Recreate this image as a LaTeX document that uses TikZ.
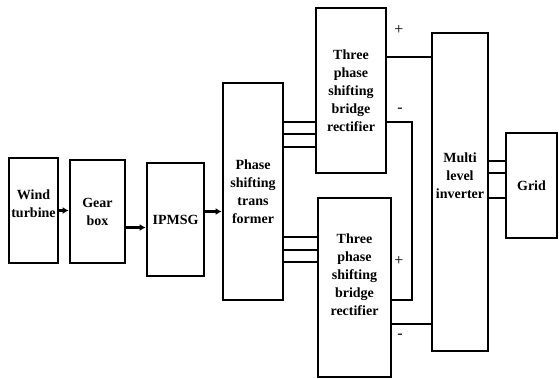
\documentclass[tikz,border=0pt]{standalone}
\usepackage{fontspec}
\setmainfont{Liberation Serif}
\usetikzlibrary{arrows.meta,calc}
\tikzset{
  blk/.style={draw,line width=2.8pt,inner sep=0pt,align=center,font=\fontsize{14}{18}\selectfont\bfseries},
  txt/.style={align=center,font=\fontsize{14}{18}\selectfont\bfseries},
  wire/.style={line width=2.8pt},
  arr/.style={line width=2.8pt,-{Latex[length=6pt,width=7pt]}},
  sgn/.style={font=\fontsize{16}{16}\selectfont,inner sep=0pt}
}

\begin{document}
\begin{tikzpicture}[x=1pt,y=-1pt]
  \useasboundingbox (0,0) rectangle (559,379);
  \node[blk,minimum width=49,minimum height=105,label={[txt,yshift=7pt]center:Wind\\turbine}] (wt) at (33.5,210.5){};
  \node[blk,minimum width=55,minimum height=103] (gb) at (97.5,211.5){Gear\\box};
  \node[blk,minimum width=57,minimum height=113] (ipm) at (175.5,219.5){IPMSG};
  \node[blk,minimum width=60,minimum height=217] (pst) at (253,191.5){Phase\\shifting\\trans\\former};
  \node[blk,minimum width=70,minimum height=165] (r1) at (351,90.5){Three\\phase\\shifting\\bridge\\rectifier};
  \node[blk,minimum width=73,minimum height=179,label={[txt,yshift=13pt]center:Three\\phase\\shifting\\bridge\\rectifier}] (r2) at (354.5,287.5){};
  \node[blk,minimum width=56,minimum height=318,label={[txt,yshift=16pt]center:Multi\\level\\inverter}] (inv) at (460,192){};
  \node[blk,minimum width=51,minimum height=105] (grid) at (531.5,185.5){Grid};
  \draw[arr] (wt.east) -- (wt.east -| gb.west);
  \draw[arr] ([yshift=-16pt]gb.east) -- ([yshift=-16pt]gb.east -| ipm.west);
  \draw[arr] ([yshift=8pt]ipm.east) -- ([yshift=8pt]ipm.east -| pst.west);
  \foreach \y in {122,134,147} \draw[wire] (pst.east |- 0,\y) -- (r1.west |- 0,\y);
  \foreach \y in {237,250,262} \draw[wire] (pst.east |- 0,\y) -- (r2.west |- 0,\y);
  \foreach \y in {161,173,198} \draw[wire] (inv.east |- 0,\y) -- (grid.west |- 0,\y);
  \coordinate (bend) at (412,300);
  \draw[wire] (r1.east |- 0,57) -- (inv.west |- 0,57);
  \draw[wire] (r1.east |- 0,122) -| (bend) -- (r2.east |- bend);
  \draw[wire] (r2.east |- 0,324) -- (inv.west |- 0,324);
  \node[sgn] (pa) at (399,30){+};
  \node[sgn] (ma) at (400,110){-};
  \node[sgn] (pb) at (399,261){+};
  \node[sgn] (mb) at (400,336){-};
\end{tikzpicture}
\end{document}
